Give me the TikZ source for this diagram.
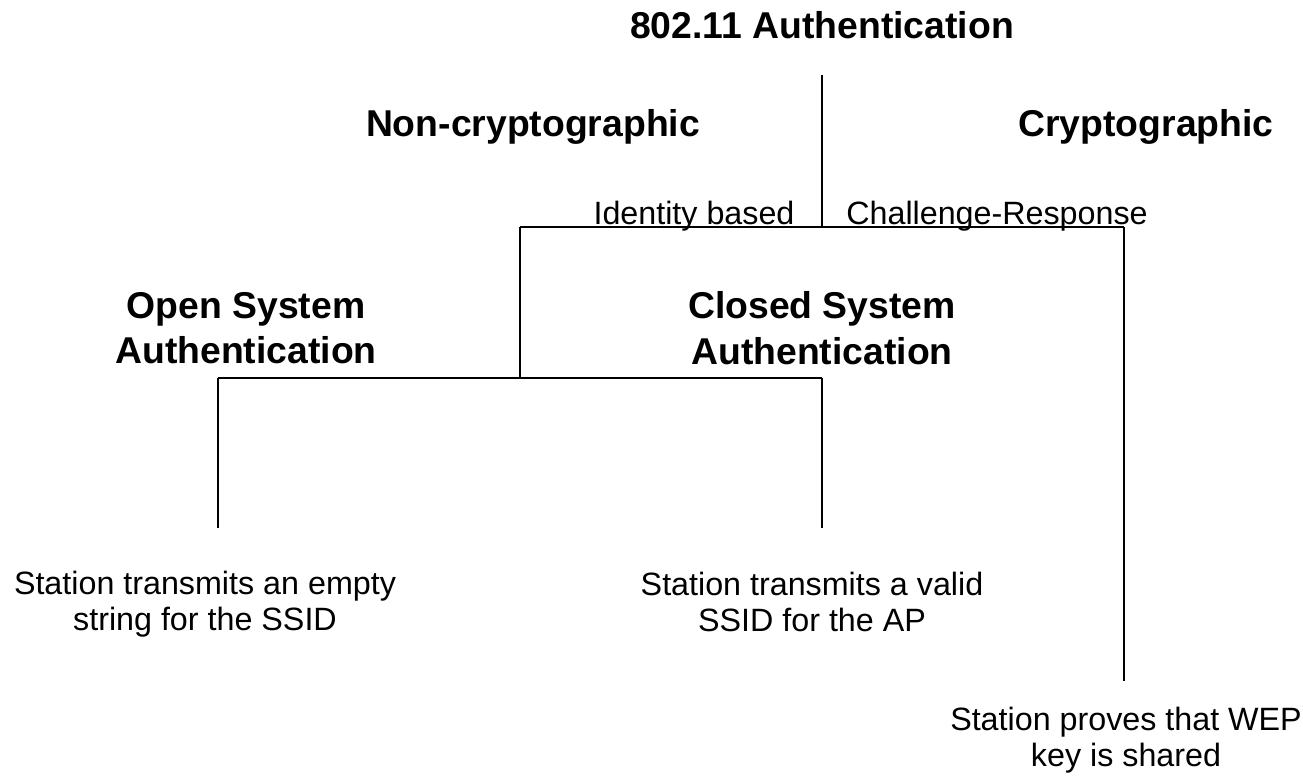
\documentclass[tikz,border=0pt]{standalone}
\usepackage{fontspec}
\setmainfont{Liberation Sans}
\begin{document}
\begin{tikzpicture}[x=0.75pt,y=-0.75pt,
  title/.style={font=\fontsize{28}{34}\selectfont\bfseries,align=center,inner sep=0pt},
  plain/.style={font=\fontsize{24.2}{27.5}\selectfont,align=center,inner sep=0pt},
  link/.style={line width=1pt,black}]
\useasboundingbox (0,0) rectangle (1303,780);
% texts
\node[title,anchor=base] (root) at (822,39) {802.11 Authentication};
\node[title,anchor=base] (noncrypt) at (533,137) {Non-cryptographic};
\node[title,anchor=base] (crypt) at (1146,137) {Cryptographic};
\node[plain,anchor=base] (ident) at (694,225) {Identity based};
\node[plain,anchor=base] (chal) at (997,225) {Challenge-Response};
\node[title] (open) at (246,328) {Open System\\Authentication};
\node[title] (closed) at (822,328) {Closed System\\Authentication};
\node[plain] (empty) at (205,604) {Station transmits an empty\\string for the SSID};
\node[plain] (valid) at (812,602) {Station transmits a valid\\SSID for the AP};
\node[plain] (wep) at (1126,740) {Station proves that WEP\\key is shared};
% junctions
\coordinate (top) at (822,75);
\coordinate (j1) at (822,227);
\coordinate (l1) at (520,227);
\coordinate (r1) at (1124,227);
\coordinate (j2) at (520,378);
\coordinate (l2) at (218,378);
\coordinate (r2) at (822,378);
\coordinate (l3) at (218,528);
\coordinate (r3) at (822,528);
\coordinate (r4) at (1124,681);
% connectors
\draw[link] (top) -- (j1);
\draw[link] (l1) -- (r1);
\draw[link] (l1) -- (j2);
\draw[link] (r1) -- (r4);
\draw[link] (l2) -- (r2);
\draw[link] (l2) -- (l3);
\draw[link] (r2) -- (r3);
\end{tikzpicture}
\end{document}
